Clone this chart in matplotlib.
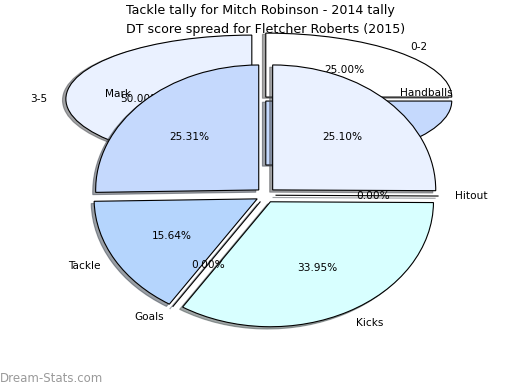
import matplotlib
matplotlib.use("Agg")
import matplotlib.pyplot as plt

# Back pie: Tackle tally for Mitch Robinson (2014)
back_labels = ["0-2", "6-8", "3-5"]
back_values = [25.0, 25.0, 50.0]
back_colors = ["#ffffff", "#c5d9fd", "#eaf1ff"]

# Front pie: DT score spread for Fletcher Roberts (2015)
front_labels = ["Handballs", "Hitout", "Kicks", "Goals", "Tackle", "Mark"]
front_values = [25.10, 0.0, 33.95, 0.0, 15.64, 25.31]
front_colors = ["#eaf1ff", "#d0e2ff", "#d8ffff", "#c0d8ff", "#b5d5fd", "#c5d9fd"]

plt.rcParams['font.size'] = 7.6

fig = plt.figure(figsize=(5.2, 3.9), dpi=100)

shadow_props = {'ox': -0.013, 'oy': -0.013}

ax_back = fig.add_axes([0.053, 0.541, 0.894, 0.41])
ax_back.pie(back_values, labels=back_labels, colors=back_colors,
            explode=[0.044] * len(back_values), autopct='%.2f%%',
            startangle=90, counterclock=False, shadow=shadow_props,
            wedgeprops={'edgecolor': 'black', 'linewidth': 0.8})
ax_back.set_aspect('auto')
ax_back.set_xlim(-1.25, 1.25)
ax_back.set_ylim(-1.25, 1.25)
ax_back.set_title("Tackle tally for Mitch Robinson - 2014 tally", pad=4.0)

ax_front = fig.add_axes([0.119, 0.099, 0.784, 0.801])
ax_front.pie(front_values, labels=front_labels, colors=front_colors,
             explode=[0.06] * len(front_values), autopct='%.2f%%',
             startangle=90, counterclock=False, shadow=shadow_props,
             wedgeprops={'edgecolor': 'black', 'linewidth': 0.8})
ax_front.set_aspect('auto')
ax_front.set_xlim(-1.25, 1.25)
ax_front.set_ylim(-1.25, 1.25)
ax_front.set_title("DT score spread for Fletcher Roberts (2015)", pad=4.5)

fig.text(0.0, 0.012, "Dream-Stats.com", color="#9a9a9a", fontsize=8.5,
         ha="left", va="bottom")

fig.savefig("out.png", dpi=100)
